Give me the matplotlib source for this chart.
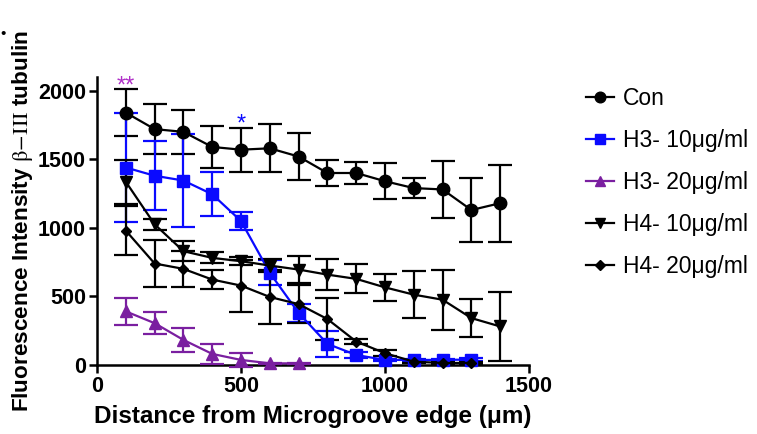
import matplotlib
matplotlib.use("Agg")
import matplotlib.pyplot as plt
from matplotlib.lines import Line2D

plt.rcParams['font.family'] = ['Liberation Sans', 'DejaVu Sans']
plt.rcParams['mathtext.fontset'] = 'stix'

distance = [100, 200, 300, 400, 500, 600, 700, 800, 900, 1000, 1100, 1200, 1300, 1400]

con = [1840, 1720, 1700, 1590, 1570, 1580, 1520, 1400, 1400, 1340, 1290, 1280, 1130, 1180]
con_err = [170, 185, 160, 150, 160, 175, 170, 95, 80, 130, 75, 205, 235, 280]

h3_10 = [1440, 1380, 1345, 1245, 1050, 672, 380, 154, 73, 37, 37, 37, 40]
h3_10_err = [400, 250, 340, 160, 65, 90, 65, 95, 20, 10, 10, 10, 10]

h3_20 = [391, 305, 183, 81, 37, 12, 12]
h3_20_err = [97, 80, 90, 75, 50, 5, 5]

h4_10 = [1336, 1026, 830, 781, 757, 725, 696, 659, 628, 566, 513, 476, 342, 281]
h4_10_err = [160, 40, 75, 40, 30, 45, 100, 115, 105, 100, 170, 220, 140, 250]

h4_20 = [980, 740, 701, 623, 579, 496, 444, 335, 171, 86, 24, 15, 15]
h4_20_err = [180, 170, 130, 70, 190, 200, 140, 150, 20, 20, 10, 5, 5]

labels = ["Con", "H3- 10\u03bcg/ml", "H3- 20\u03bcg/ml", "H4- 10\u03bcg/ml", "H4- 20\u03bcg/ml"]
colors = ["black", "#0a0aff", "#7a1fa0", "black", "black"]
markers = ["o", "s", "^", "v", "D"]
msizes = [9, 8.5, 9, 9, 5.5]

series = [(con, con_err), (h3_10, h3_10_err), (h3_20, h3_20_err),
          (h4_10, h4_10_err), (h4_20, h4_20_err)]

fig = plt.figure(figsize=(7.57, 4.34), dpi=100)
ax = fig.add_axes([97/757, 69/434, 432/757, 288/434])

handles = []
for (vals, errs), lab, c, m, ms in zip(series, labels, colors, markers, msizes):
    xs = distance[:len(vals)]
    eb = ax.errorbar(xs, vals, yerr=errs, color=c, marker=m, markersize=ms,
                     linewidth=1.6, elinewidth=1.6, capsize=8.5, capthick=1.6,
                     clip_on=False, zorder=3)
    for art in eb.get_children():
        art.set_clip_on(False)
    handles.append(Line2D([0], [0], color=c, marker=m, markersize=ms * 0.85,
                          linewidth=1.6))

ax.set_xlim(0, 1500)
ax.set_ylim(0, 2100)
ax.set_xticks([0, 500, 1000, 1500])
ax.set_yticks([0, 500, 1000, 1500, 2000])
for s in ["top", "right"]:
    ax.spines[s].set_visible(False)
for s in ["left", "bottom"]:
    ax.spines[s].set_linewidth(1.8)
ax.tick_params(axis="both", width=1.8, length=6, labelsize=15.5, direction="out",
               pad=2)
for lab in ax.get_xticklabels() + ax.get_yticklabels():
    lab.set_fontweight("bold")

ax.set_xlabel("Distance from Microgroove edge (\u03bcm)", fontsize=17.5,
              fontweight="bold", labelpad=6)
ax.set_ylabel("Fluorescence Intensity $\\mathrm{\u03b2\\!-\\!III}$ tubulin",
              fontsize=16.2, fontweight="bold", labelpad=2)

ax.text(100, 1950, "**", color="#b030c8", fontsize=17, ha="center", va="bottom")
ax.text(500, 1675, "*", color="#0a0aff", fontsize=17, ha="center", va="bottom")

fig.text(3 / 757, 1 - 34 / 434, "\u2022", fontsize=11, ha="center", va="center")

fig.legend(handles=handles, labels=labels, loc="upper left",
           bbox_to_anchor=(577 / 757, 1 - 78 / 434), frameon=False,
           fontsize=16.5, handlelength=1.2, handletextpad=0.4,
           labelspacing=0.83, borderaxespad=0)

fig.savefig("out.png", dpi=100)
